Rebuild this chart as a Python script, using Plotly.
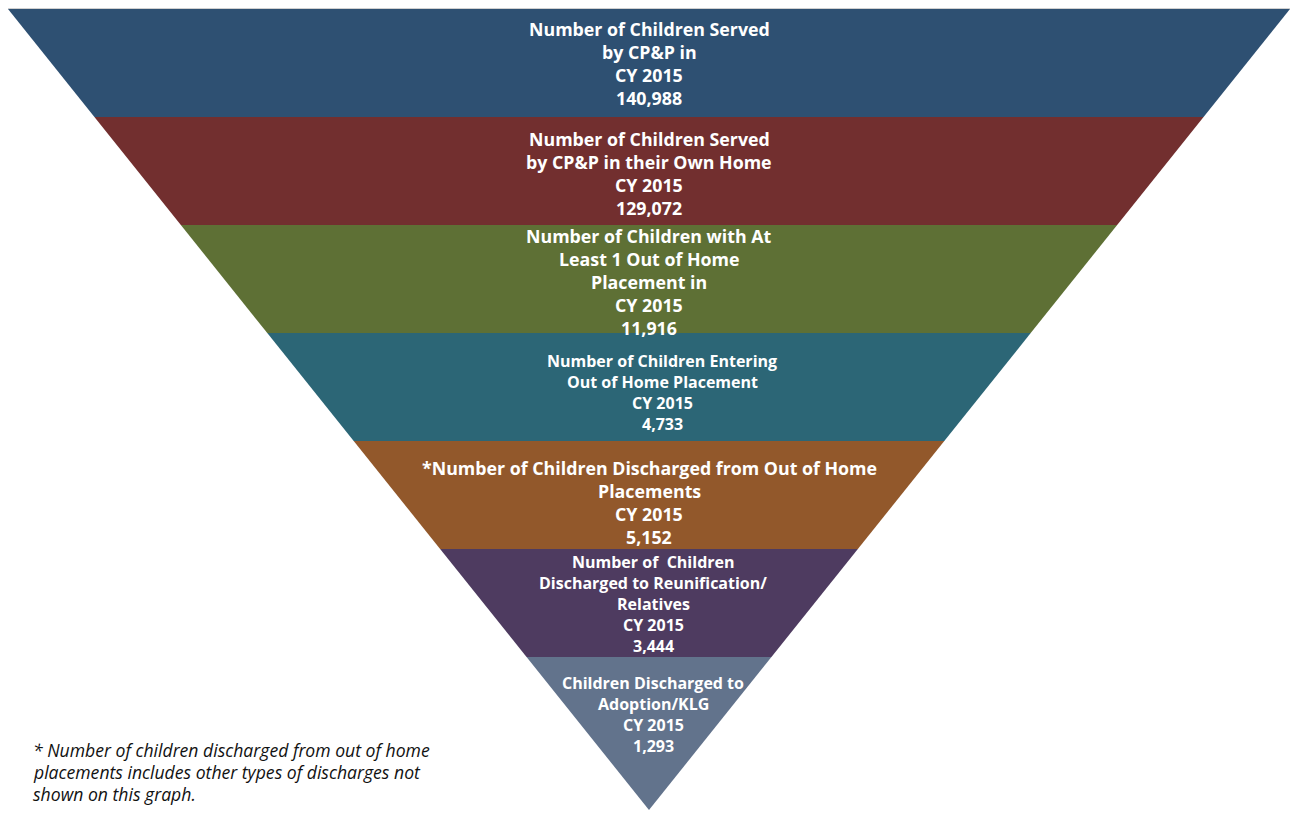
import plotly.graph_objects as go

# ---------------- data ----------------
stage_labels = [
    ["Number of Children Served", "by CP&P in"],
    ["Number of Children Served", "by CP&P in their Own Home"],
    ["Number of Children with At", "Least 1 Out of Home", "Placement in"],
    ["Number of Children Entering", "Out of Home Placement"],
    ["*Number of Children Discharged from Out of Home", "Placements"],
    ["Number of  Children", "Discharged to Reunification/", "Relatives"],
    ["Children Discharged to", "Adoption/KLG"],
]
period_labels = ["CY 2015"] * 7
stage_values = [140988, 129072, 11916, 4733, 5152, 3444, 1293]
footnote_lines = [
    "* Number of children discharged from out of home",
    "placements includes other types of discharges not",
    "shown on this graph.",
]

# ---------------- style ----------------
colors = ["#2E5072", "#722F2F", "#5E7035", "#2C6676", "#92582B", "#4E3B60", "#62738C"]
font_sizes = [17.8, 17.8, 17.8, 16, 17.8, 16, 16]
line_gaps = [23, 23, 23, 21, 23, 21, 21]
label_dx = [0, 0, 0, 13, 0, 4, 4]
label_dy = [-1.5, 0.5, 1, 3, 5, -1, 1.5]

W, H = 1290, 813
TOP_Y, APEX_Y = 9, 810
CX, HALF_TOP = 649, 641
BAND_H = 108
FONT = "Open Sans"


def half_width(y):
    return HALF_TOP * (APEX_Y - y) / (APEX_Y - TOP_Y)


fig = go.Figure()
n = len(stage_values)
for i in range(n):
    y0 = TOP_Y + BAND_H * i
    if i < n - 1:
        y1 = y0 + BAND_H
        xs = [CX - half_width(y0), CX + half_width(y0), CX + half_width(y1), CX - half_width(y1), CX - half_width(y0)]
        ys = [y0, y0, y1, y1, y0]
    else:
        xs = [CX - half_width(y0), CX + half_width(y0), CX, CX - half_width(y0)]
        ys = [y0, y0, APEX_Y, y0]
    fig.add_trace(go.Scatter(x=xs, y=ys, fill="toself", fillcolor=colors[i],
                             mode="lines", line=dict(width=0, color=colors[i]),
                             hoverinfo="skip", showlegend=False))
    lines = stage_labels[i] + [period_labels[i], f"{stage_values[i]:,}"]
    yc = y0 + 56 + label_dy[i]
    for j, t in enumerate(lines):
        fig.add_annotation(x=CX + label_dx[i], y=yc + (j - (len(lines) - 1) / 2) * line_gaps[i],
                           text=f"<b>{t}</b>", showarrow=False,
                           xanchor="center", yanchor="middle",
                           font=dict(family=FONT, size=font_sizes[i], color="white"))

fig.add_shape(type="line", x0=8, x1=1290, y0=TOP_Y - 0.5, y1=TOP_Y - 0.5,
              line=dict(color="#D0D0D0", width=1))

for j, t in enumerate(footnote_lines):
    fig.add_annotation(x=31, y=750 + 22 * j, text=f"<i>{t}</i>", showarrow=False,
                       xanchor="left", yanchor="middle",
                       font=dict(family=FONT, size=17.6, color="#111111"))

fig.update_layout(
    width=W, height=H, margin=dict(l=0, r=0, t=0, b=0),
    paper_bgcolor="white", plot_bgcolor="white",
    xaxis=dict(range=[0, W], visible=False, fixedrange=True),
    yaxis=dict(range=[H, 0], visible=False, fixedrange=True),
)

fig.write_html("out.html")
